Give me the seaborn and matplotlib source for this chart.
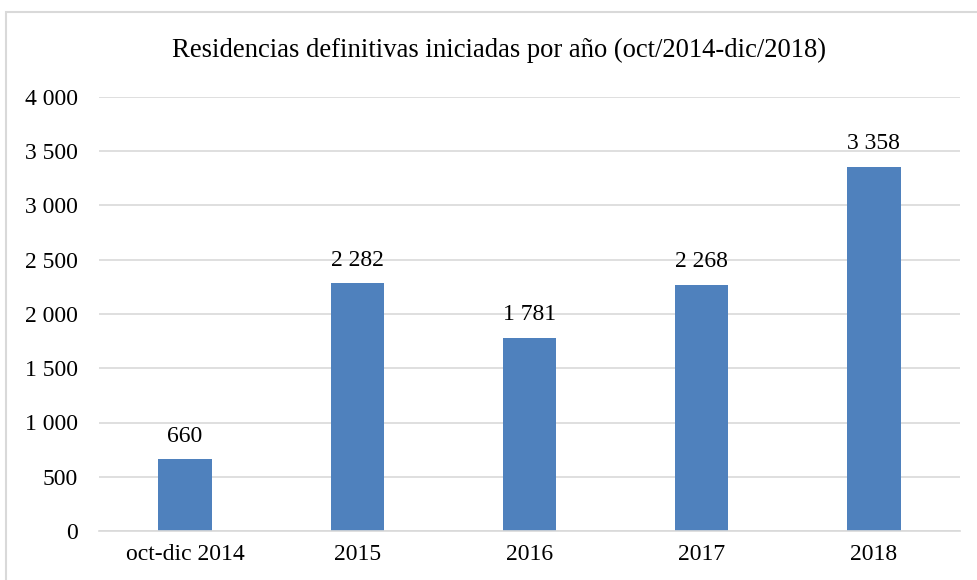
import matplotlib
matplotlib.use("Agg")
import matplotlib.pyplot as plt
import seaborn as sns
import pandas as pd
from matplotlib.patches import Rectangle
from matplotlib.ticker import FuncFormatter

categories = ["oct-dic 2014", "2015", "2016", "2017", "2018"]
values = [660, 2282, 1781, 2268, 3358]
yticks = [0, 500, 1000, 1500, 2000, 2500, 3000, 3500, 4000]
title = "Residencias definitivas iniciadas por año (oct/2014-dic/2018)"

df = pd.DataFrame({"cat": categories, "val": values})

sns.set_theme(style="white")
plt.rcParams["font.family"] = ["Liberation Serif", "DejaVu Serif"]

W, H = 977, 580
fig = plt.figure(figsize=(W / 100, H / 100), dpi=100)
ax = fig.add_axes([99 / W, 1 - 531 / H, (960 - 99) / W, (531 - 97) / H])

sns.barplot(data=df, x="cat", y="val", color="#4f81bd", saturation=1,
            width=0.31, linewidth=0, ax=ax)

def fmt(v):
    return f"{int(v):,}".replace(",", " ")

ax.set_ylim(0, 4000)
ax.set_yticks(yticks)
ax.yaxis.set_major_formatter(FuncFormatter(lambda v, p: fmt(v)))
ax.grid(axis="y", color="#d9d9d9", linewidth=1.2)
ax.set_axisbelow(True)
for s in ["left", "right", "top"]:
    ax.spines[s].set_visible(False)
ax.spines["bottom"].set_color("#d9d9d9")
ax.spines["bottom"].set_linewidth(1.2)
ax.tick_params(axis="both", length=0, labelsize=17, colors="black")
ax.tick_params(axis="x", pad=9)
ax.tick_params(axis="y", pad=15)
ax.set_xlabel("")
ax.set_ylabel("")

for i, v in enumerate(values):
    ax.annotate(fmt(v), (i, v), xytext=(0, 9), textcoords="offset points",
                ha="center", va="bottom", fontsize=17, color="black")

fig.text(499 / W, 1 - 50 / H, title, ha="center", va="center", fontsize=19.2,
         color="black")

fig.patches.append(Rectangle((6 / W, -0.1), (W - 6) / W + 0.1, 1.1 - 12 / H,
                             transform=fig.transFigure, fill=False,
                             edgecolor="#d9d9d9", linewidth=1.5))

fig.savefig("out.png", dpi=100, facecolor="white")
